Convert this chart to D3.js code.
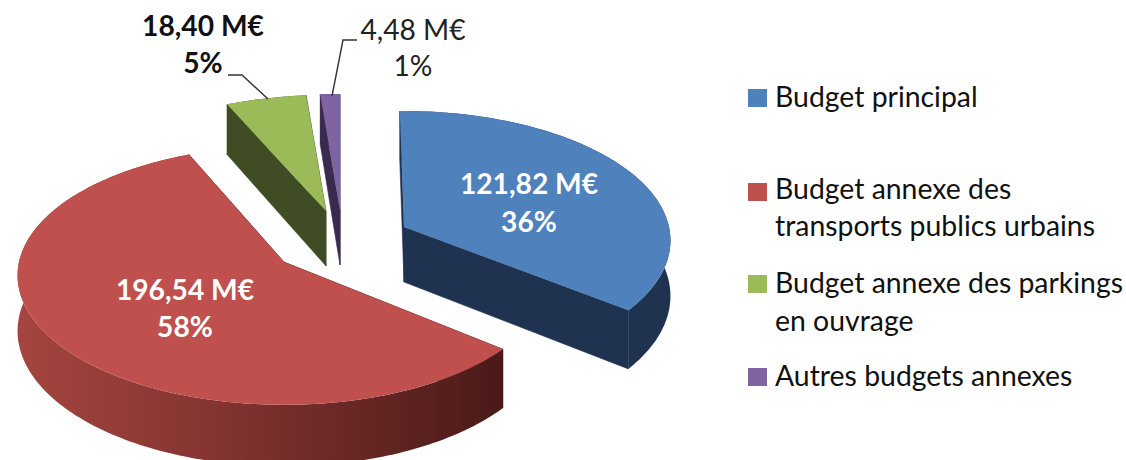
<!DOCTYPE html>
<html><head><meta charset="utf-8">
<script src="https://cdnjs.cloudflare.com/ajax/libs/d3/7.8.5/d3.min.js"></script>
<style>html,body{margin:0;padding:0;background:#fff;overflow:hidden}svg{display:block}text{font-family:Lato,"Open Sans",sans-serif}</style>
</head><body><svg id="c" width="1126" height="460"></svg>
<script>
// ---- data ----
const categories = ["Budget principal","Budget annexe des transports publics urbains","Budget annexe des parkings en ouvrage","Autres budgets annexes"];
const values = [121.82, 196.54, 18.40, 4.48];
const legendLines = [["Budget principal"],["Budget annexe des","transports publics urbains"],["Budget annexe des parkings","en ouvrage"],["Autres budgets annexes"]];
// ---- style / layout ----
const topColors = ["#4f81bd","#c0504d","#9bbb59","#8064a2"];
const wallColors = ["#1f3350","url(#redWall)","#404c24","#3a2a50"];
const apexes = [[404,227],[284,262],[326,211],[340,210]];
const sliceRot = [-1,1,0,0];
const RX = 265, RY = 128, K = 0.104, DEPTH = 55;
const labelPos = [
  {x:529,y:[194,232],fill:"#fff",weight:700},
  {x:185,y:[300,337],fill:"#fff",weight:700},
  {x:203,y:[36,73],fill:"#111",weight:700},
  {x:413,y:[40,76],fill:"#222",weight:400}];
const leaders = [null,null,[[228,75],[242,75],[268,99]],[[357,40],[343,40],[332,96]]];
const legendSwatchY = [89,183,275,368];
const legendBase = [[107],[199,236],[293,331],[386]];

const svg = d3.select("#c");
const defs = svg.append("defs");
const grad = defs.append("linearGradient").attr("id","redWall").attr("gradientUnits","userSpaceOnUse")
  .attr("x1",17).attr("x2",501).attr("y1",0).attr("y2",0);
[[0,"#a5453f"],[0.45,"#80322f"],[1,"#4a1a18"]].forEach(s=>grad.append("stop").attr("offset",s[0]).attr("stop-color",s[1]));

const arcs = d3.pie().sort(null).value(d=>d)(values);
const total = d3.sum(values);
const line = d3.line();
function proj(a,i,drop){
  const th=a+sliceRot[i]*Math.PI/180,u=Math.sin(th),v=Math.cos(th),w=1/(1+K*v);
  return [apexes[i][0]+RX*u*w, apexes[i][1]-RY*v*w+(drop?DEPTH*w:0)];
}
function samples(d){
  const n=Math.max(4,Math.ceil((d.endAngle-d.startAngle)/0.02));
  return d3.range(n+1).map(k=>d.startAngle+(d.endAngle-d.startAngle)*k/n);
}
const apexTop=i=>[apexes[i][0],apexes[i][1]];
const apexBot=i=>[apexes[i][0],apexes[i][1]+DEPTH];
const slices=svg.append("g").selectAll("g").data(arcs).join("g");
// walls
slices.each(function(d,i){
  const g=d3.select(this),as=samples(d),fill=wallColors[i];
  const flat=i===1?"#4a1a18":fill;
  [d.startAngle,d.endAngle].forEach(a=>{
    g.append("path").attr("fill",flat).attr("stroke",flat).attr("stroke-width",0.6).attr("d",line([apexTop(i),proj(a,i),proj(a,i,true),apexBot(i)])+"Z");
  });
  const wall=as.map(a=>proj(a,i)).concat(as.slice().reverse().map(a=>proj(a,i,true)));
  g.append("path").attr("fill",fill).attr("d",line(wall)+"Z");
});
// tops
slices.append("path").attr("fill",(d,i)=>topColors[i])
  .attr("d",(d,i)=>line([apexTop(i)].concat(samples(d).map(a=>proj(a,i))))+"Z");
// leaders
svg.append("g").selectAll("path").data(leaders.filter(Boolean)).join("path")
  .attr("d",d=>line(d)).attr("fill","none").attr("stroke","#333").attr("stroke-width",1.4);
// labels
const fmt=v=>d3.format(".2f")(v).replace(".",",")+" M€";
const labels=svg.append("g").selectAll("g").data(values).join("g");
labels.each(function(v,i){
  const p=labelPos[i],g=d3.select(this);
  [fmt(v),Math.round(v/total*100)+"%"].forEach((t,j)=>{
    g.append("text").attr("x",p.x).attr("y",p.y[j]).attr("text-anchor","middle")
     .attr("font-size",28.2).attr("font-weight",p.weight).attr("fill",p.fill).text(t);
  });
});
// legend
const leg=svg.append("g").selectAll("g").data(categories).join("g");
leg.append("rect").attr("x",748).attr("y",(d,i)=>legendSwatchY[i]).attr("width",19).attr("height",18).attr("fill",(d,i)=>topColors[i]);
leg.each(function(d,i){
  legendLines[i].forEach((t,j)=>{
    d3.select(this).append("text").attr("x",775).attr("y",legendBase[i][j]).attr("font-size",28.4).attr("fill","#111").text(t);
  });
});
</script></body></html>
